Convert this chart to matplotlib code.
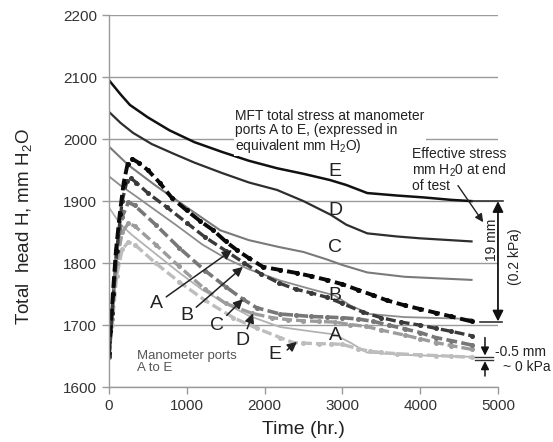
import numpy as np
import matplotlib
matplotlib.use("Agg")
import matplotlib.pyplot as plt

plt.rcParams['font.family'] = ['Liberation Sans', 'DejaVu Sans']
plt.rcParams['mathtext.fontset'] = 'custom'
plt.rcParams['mathtext.rm'] = 'Liberation Sans'

# MFT total stress (solid lines), ports A to E
t_tot_E = [0, 150, 270, 500, 780, 1100, 1460, 1800, 2160, 2500, 2840, 3050, 3320, 3700, 4040, 4400, 4660]
tot_E = [2095, 2072, 2055, 2035, 2014, 1995, 1979, 1965, 1953, 1944, 1934, 1926, 1913, 1909, 1906, 1902, 1900]

t_tot_D = [0, 150, 310, 550, 820, 1100, 1460, 1800, 2160, 2500, 2850, 3050, 3320, 3700, 4000, 4660]
tot_D = [2044, 2026, 2010, 1992, 1977, 1962, 1945, 1930, 1918, 1900, 1878, 1862, 1848, 1843, 1840, 1835]

t_tot_C = [0, 250, 600, 1000, 1430, 1800, 2185, 2500, 2800, 3000, 3320, 3800, 4660]
tot_C = [1988, 1958, 1925, 1890, 1853, 1837, 1826, 1818, 1806, 1797, 1785, 1778, 1773]

t_tot_B = [0, 150, 300, 600, 900, 1200, 1500, 1800, 2200, 2600, 2900, 3100, 3350, 3800, 4660]
tot_B = [1940, 1925, 1912, 1885, 1858, 1830, 1808, 1790, 1772, 1758, 1748, 1732, 1718, 1713, 1710]

t_tot_A = [0, 150, 300, 600, 900, 1200, 1500, 1800, 2200, 2600, 2900, 3100, 3316, 3800, 4660]
tot_A = [1890, 1862, 1845, 1815, 1785, 1757, 1735, 1715, 1697, 1690, 1685, 1672, 1656, 1652, 1649]

# manometer readings (dashed lines with dots), ports A to E
t_man_A = [0, 20, 50, 90, 140, 190, 240, 300, 380, 500, 650, 810, 1000, 1170, 1341, 1500, 1645, 1800, 1980,
           2200, 2416, 2600, 2800, 3000, 3200, 3400, 3573, 3800, 4000, 4200, 4400, 4660]
man_A = [1655, 1690, 1750, 1820, 1880, 1930, 1960, 1968, 1962, 1950, 1930, 1905, 1885, 1868, 1853, 1835, 1821, 1808, 1794,
         1789, 1784, 1779, 1773, 1766, 1757, 1748, 1740, 1732, 1726, 1720, 1714, 1706]

t_man_B = [0, 40, 100, 170, 230, 280, 350, 500, 745, 1000, 1234, 1500, 1740, 1950, 2185, 2400, 2600, 2800, 3000,
           3265, 3500, 3750, 4000, 4200, 4400, 4660]
man_B = [1650, 1720, 1820, 1900, 1932, 1937, 1930, 1913, 1890, 1865, 1842, 1820, 1800, 1783, 1768, 1758, 1752, 1745, 1735,
         1721, 1712, 1705, 1700, 1695, 1690, 1683]

t_man_C = [0, 40, 100, 170, 250, 330, 600, 900, 1234, 1500, 1720, 1900, 2200, 2400, 2600, 2800, 3000, 3200, 3400,
           3600, 3800, 4000, 4200, 4400, 4660]
man_C = [1650, 1720, 1820, 1875, 1898, 1893, 1862, 1825, 1788, 1762, 1742, 1728, 1718, 1716, 1714, 1713, 1712, 1710, 1706,
         1700, 1694, 1688, 1680, 1675, 1668]

t_man_D = [0, 40, 100, 170, 250, 330, 600, 900, 1234, 1500, 1840, 2100, 2300, 2500, 2700, 2900, 3100, 3300, 3500,
           3800, 4000, 4200, 4400, 4660]
man_D = [1648, 1710, 1800, 1850, 1864, 1860, 1830, 1795, 1758, 1735, 1719, 1712, 1709, 1707, 1706, 1705, 1701, 1698, 1692,
         1684, 1678, 1672, 1667, 1661]

t_man_E = [0, 40, 100, 170, 250, 330, 600, 900, 1234, 1600, 1900, 2200, 2365, 2500, 2700, 2850, 3000, 3200, 3350,
           3500, 3700, 4000, 4200, 4400, 4660]
man_E = [1648, 1700, 1780, 1822, 1834, 1830, 1800, 1770, 1740, 1712, 1695, 1680, 1672, 1671, 1670, 1670, 1669, 1662, 1658,
         1656, 1654, 1652, 1651, 1650, 1648]

fig = plt.figure(figsize=(5.53, 4.42), dpi=100)
ax = fig.add_axes([0.197, 0.124, 0.7035, 0.842])

grid_c = '#9a9a9a'
ax.set_xlim(0, 5000)
ax.set_ylim(1600, 2200)
ax.set_yticks(np.arange(1600, 2201, 100))
ax.set_xticks(np.arange(0, 5001, 1000))
ax.yaxis.grid(True, color=grid_c, lw=1.0)
ax.set_axisbelow(True)
for s in ['top', 'right']:
    ax.spines[s].set_visible(False)
for s in ['left', 'bottom']:
    ax.spines[s].set_color(grid_c)
    ax.spines[s].set_linewidth(1.0)
ax.tick_params(colors=grid_c, length=5, width=1.0, labelsize=11, labelcolor='#333333')

# solid: total stress
ax.plot(t_tot_E, tot_E, color='#111111', lw=1.8)
ax.plot(t_tot_D, tot_D, color='#2e2e2e', lw=1.6)
ax.plot(t_tot_C, tot_C, color='#7a7a7a', lw=1.5)
ax.plot(t_tot_B, tot_B, color='#8c8c8c', lw=1.3)
ax.plot(t_tot_A, tot_A, color='#b3b3b3', lw=1.3)

# dashed: manometers
dash_kw = dict(ls=(0, (3, 1.2)), marker='o', ms=2.6)
ax.plot(t_man_E, man_E, color='#bdbdbd', lw=2.4, **dash_kw)
ax.plot(t_man_D, man_D, color='#9c9c9c', lw=2.4, **dash_kw)
ax.plot(t_man_C, man_C, color='#777777', lw=2.6, **dash_kw)
ax.plot(t_man_B, man_B, color='#3a3a3a', lw=2.4, **dash_kw)
ax.plot(t_man_A, man_A, color='#0a0a0a', lw=2.8, **dash_kw)

lab_kw = dict(fontsize=14, color='#222222', ha='center', va='center')
arr_kw = dict(arrowstyle='-|>', color='#222222', lw=1.1, mutation_scale=14, shrinkA=0, shrinkB=0)

# port labels with arrows
ax.annotate('A', xy=(1581, 1821), xytext=(617, 1735), arrowprops=arr_kw, **lab_kw)
ax.annotate('B', xy=(1722, 1794), xytext=(1003, 1716), arrowprops=arr_kw, **lab_kw)
ax.annotate('C', xy=(1722, 1742), xytext=(1388, 1700), arrowprops=arr_kw, **lab_kw)
ax.annotate('D', xy=(1851, 1719), xytext=(1722, 1676), arrowprops=arr_kw, **lab_kw)
ax.text(2134, 1652, 'E', **lab_kw)
ax.annotate('', xy=(2416, 1673), xytext=(2290, 1660), arrowprops=arr_kw)

# labels on total stress lines
for lab, v in zip(['E', 'D', 'C', 'B', 'A'], [1947, 1885, 1826, 1748, 1684]):
    ax.text(2905, v, lab, **lab_kw)

ax.text(1620, 2049, 'MFT total stress at manometer\nports A to E, (expressed in\nequivalent mm H$_2$O)',
        fontsize=10, color='#222222', ha='left', va='top', linespacing=1.0,
        bbox=dict(facecolor='white', edgecolor='none', pad=1))

ax.text(3895, 1988, 'Effective stress\nmm H$_2$0 at end\nof test', fontsize=10, color='#222222',
        ha='left', va='top', linespacing=1.05)
ax.annotate('', xy=(4810, 1866), xytext=(4486, 1925),
            arrowprops=dict(arrowstyle='-|>', color='#222222', lw=1.0, mutation_scale=12, shrinkA=0, shrinkB=0))

# effective stress double arrow
ax.plot([4660, 5065], [1900, 1900], color='#333333', lw=1.2, clip_on=False)
ax.plot([4770, 5055], [1705, 1705], color='#333333', lw=1.2, clip_on=False)
ax.annotate('', xy=(5000, 1900), xytext=(5000, 1706), annotation_clip=False,
            arrowprops=dict(arrowstyle='<|-|>', color='#111111', lw=1.3, mutation_scale=16, shrinkA=0, shrinkB=0))
ax.text(4923, 1837, '19 mm', rotation=90, fontsize=10, color='#222222', ha='center', va='center')
ax.text(5225, 1810, '(0.2 kPa)', rotation=90, fontsize=10, color='#222222', ha='center', va='center',
        clip_on=False)

# -0.5 mm marker
ax.plot([4700, 4940], [1649, 1649], color='#333333', lw=1.0, clip_on=False)
ax.plot([4700, 4940], [1644, 1644], color='#333333', lw=1.0, clip_on=False)
ax.annotate('', xy=(4833, 1651), xytext=(4833, 1680), annotation_clip=False,
            arrowprops=dict(arrowstyle='-|>', color='#111111', lw=1.1, mutation_scale=12, shrinkA=0, shrinkB=0))
ax.annotate('', xy=(4833, 1642), xytext=(4833, 1618), annotation_clip=False,
            arrowprops=dict(arrowstyle='-|>', color='#111111', lw=1.1, mutation_scale=12, shrinkA=0, shrinkB=0))
ax.text(4960, 1656, '-0.5 mm', fontsize=10, color='#222222', ha='left', va='center')
ax.text(5060, 1632, '~ 0 kPa', fontsize=10, color='#222222', ha='left', va='center')

ax.text(360, 1660, 'Manometer ports\nA to E', fontsize=9.5, color='#555555', ha='left', va='top',
        linespacing=1.0)

ax.set_xlabel('Time (hr.)', fontsize=14, color='#222222', labelpad=6)
ax.set_ylabel('Total  head H, mm H$_2$O', fontsize=13.5, color='#222222')
ax.yaxis.set_label_coords(-0.19, 0.43)

fig.savefig('out.png', dpi=100)
